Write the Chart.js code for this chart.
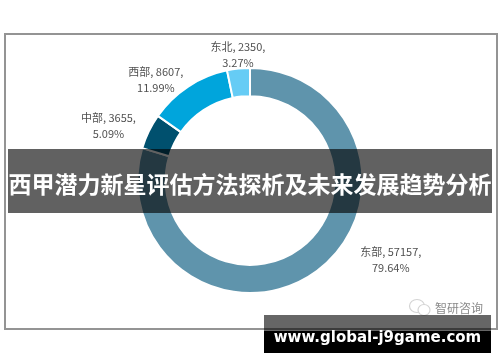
<!DOCTYPE html>
<html lang="zh">
<head>
<meta charset="utf-8">
<title>西甲潜力新星评估方法探析及未来发展趋势分析</title>
<script src="https://cdn.jsdelivr.net/npm/chart.js@4"></script>
<style>
    html, body { margin: 0; padding: 0; background: #fff; }
    #page { position: relative; width: 500px; height: 362px; overflow: hidden; }
    #chart { position: absolute; left: 0; top: 0; }
    #frame { position: absolute; left: 4px; top: 33px; width: 490px; height: 293px; border: 2px solid #949494; }
    #banner {
        position: absolute; left: 8px; top: 149px; width: 484px; height: 64px;
        background: rgba(0, 0, 0, 0.62); color: #fff;
        font: bold 23px "Noto Sans CJK SC", sans-serif;
        line-height: 68px; text-align: center; white-space: nowrap;
    }
    #source {
        position: absolute; left: 435px; top: 300px; color: #8a8a8a;
        font: 12px "Noto Sans CJK SC", sans-serif; line-height: 16px; white-space: nowrap;
    }
    #wechat { position: absolute; left: 408px; top: 298px; }
    #urlBar { position: absolute; left: 264px; top: 331px; width: 227px; height: 22px; background: #000; }
    #urlFade { position: absolute; left: 264px; top: 315px; width: 227px; height: 16px; background: rgba(0, 0, 0, 0.6); }
    #url {
        position: absolute; left: 264px; top: 327px; width: 227px; color: #fff;
        font: bold 15px "DejaVu Sans", sans-serif; line-height: 20px;
        text-align: center; white-space: nowrap;
    }
</style>
</head>
<body>
<div id="page">
    <canvas id="chart" width="500" height="362"></canvas>
    <div id="frame"></div>
    <svg id="wechat" width="24" height="20" viewBox="0 0 24 20">
        <ellipse cx="9" cy="8" rx="7.5" ry="6.5" fill="none" stroke="#d4d4d4" stroke-width="1.2"/>
        <ellipse cx="16" cy="12" rx="6" ry="5.5" fill="#fff" stroke="#d4d4d4" stroke-width="1.2"/>
    </svg>
    <div id="source">智研咨询</div>
    <div id="banner">西甲潜力新星评估方法探析及未来发展趋势分析</div>
    <div id="urlFade"></div>
    <div id="urlBar"></div>
    <div id="url">www.global-j9game.com</div>
</div>
<script>
const regions = ["东部", "中部", "西部", "东北"];
const counts = [57157, 3655, 8607, 2350];
const shares = ["79.64%", "5.09%", "11.99%", "3.27%"];
const sliceColors = ["#5f94ac", "#00506e", "#00a5dc", "#66ccf5"];

// label centre relative to the middle of each slice
const labelShift = [[82, 0], [-53, -12], [-40, -18], [-2, -28]];

const sliceLabels = {
    id: "sliceLabels",
    afterDatasetsDraw(chart) {
        const ctx = chart.ctx;
        const arcs = chart.getDatasetMeta(0).data;
        ctx.save();
        ctx.font = '11px "Noto Sans CJK SC", sans-serif';
        ctx.fillStyle = "#505050";
        ctx.textAlign = "center";
        ctx.textBaseline = "middle";
        arcs.forEach((arc, i) => {
            const pos = arc.tooltipPosition();
            const x = pos.x + labelShift[i][0];
            const y = pos.y + labelShift[i][1];
            ctx.fillText(`${regions[i]}, ${counts[i]},`, x, y - 8);
            ctx.fillText(shares[i], x, y + 8);
        });
        ctx.restore();
    }
};

new Chart(document.getElementById("chart"), {
    type: "doughnut",
    data: {
        labels: regions,
        datasets: [{
            data: counts,
            backgroundColor: sliceColors,
            borderColor: "#fff",
            borderWidth: 2
        }]
    },
    options: {
        responsive: false,
        animation: false,
        cutout: "75%",
        layout: { padding: { top: 67, bottom: 68 } },
        plugins: {
            legend: { display: false },
            tooltip: { enabled: false }
        }
    },
    plugins: [sliceLabels]
});
</script>
</body>
</html>
